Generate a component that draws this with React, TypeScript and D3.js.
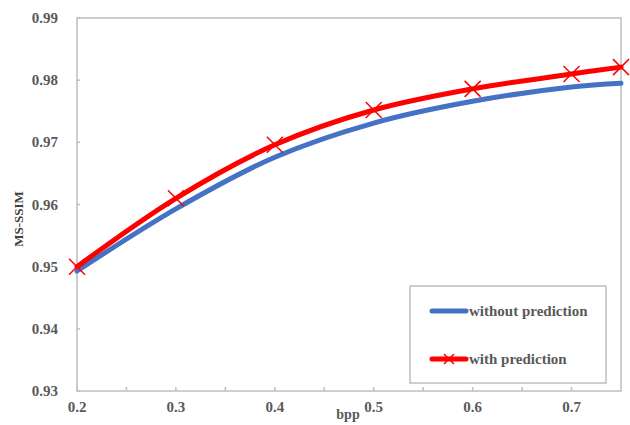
import { useEffect, useRef } from "react";
import * as d3 from "d3";

const bpp = [0.2, 0.3, 0.4, 0.5, 0.6, 0.7, 0.75];
const withoutPrediction = [0.9493, 0.9593, 0.9676, 0.9731, 0.9766, 0.9789, 0.9795];
const withPrediction = [0.95, 0.961, 0.9696, 0.9752, 0.9786, 0.981, 0.9821];
const yTicks = [0.93, 0.94, 0.95, 0.96, 0.97, 0.98, 0.99];
const xTicks = [0.2, 0.3, 0.4, 0.5, 0.6, 0.7];
const xMinorTicks = [0.25, 0.35, 0.45, 0.55, 0.65];
const seriesNames = ["without prediction", "with prediction"];

const App = () => {
  const svgRef = useRef<SVGSVGElement>(null);

  useEffect(() => {
    const svg = d3.select(svgRef.current);
    svg.selectAll("*").remove();

    const margin = { top: 18, right: 9, bottom: 34, left: 77 };
    const width = 630 - margin.left - margin.right;
    const height = 425 - margin.top - margin.bottom;
    const font = "'Liberation Serif', 'Times New Roman', serif";
    const textColor = "#595959";
    const axisColor = "#BFBFBF";

    const x = d3.scaleLinear().domain([0.2, 0.75]).range([0, width]);
    const y = d3.scaleLinear().domain([0.93, 0.99]).range([height, 0]);

    const g = svg
      .append("g")
      .attr("transform", "translate(" + margin.left + "," + margin.top + ")");

    // frame
    g.append("rect")
      .attr("x", 0)
      .attr("y", 0)
      .attr("width", width)
      .attr("height", height)
      .attr("fill", "none")
      .attr("stroke", axisColor)
      .attr("stroke-width", 1.5);

    // y ticks (inward) + labels
    g.selectAll(".ytick")
      .data(yTicks)
      .enter()
      .append("line")
      .attr("x1", 0)
      .attr("x2", 3)
      .attr("y1", (d) => y(d))
      .attr("y2", (d) => y(d))
      .attr("stroke", axisColor)
      .attr("stroke-width", 1.5);

    g.selectAll(".ylabel")
      .data(yTicks)
      .enter()
      .append("text")
      .attr("x", -19)
      .attr("y", (d) => y(d) + 5)
      .attr("text-anchor", "end")
      .attr("fill", textColor)
      .style("font", "bold 15px " + font)
      .text((d) => d3.format(".2f")(d));

    // x ticks (inward) + labels
    g.selectAll(".xtick")
      .data(xTicks.concat(xMinorTicks))
      .enter()
      .append("line")
      .attr("x1", (d) => x(d))
      .attr("x2", (d) => x(d))
      .attr("y1", height)
      .attr("y2", height - 4)
      .attr("stroke", axisColor)
      .attr("stroke-width", 1.5);

    g.selectAll(".xlabel")
      .data(xTicks)
      .enter()
      .append("text")
      .attr("x", (d) => x(d))
      .attr("y", height + 21)
      .attr("text-anchor", "middle")
      .attr("fill", textColor)
      .style("font", "bold 15px " + font)
      .text((d) => d3.format(".1f")(d));

    // axis titles
    g.append("text")
      .attr("x", 348 - margin.left)
      .attr("y", height + 28)
      .attr("text-anchor", "middle")
      .attr("fill", textColor)
      .style("font", "bold 14px " + font)
      .text("bpp");

    g.append("text")
      .attr("transform", "translate(-54," + (219 - margin.top) + ") rotate(-90)")
      .attr("text-anchor", "middle")
      .attr("fill", "#404040")
      .style("font", "bold 13px " + font)
      .text("MS-SSIM");

    const line = d3
      .line<number>()
      .x((d, i) => x(bpp[i]))
      .y((d) => y(d))
      .curve(d3.curveCatmullRom.alpha(0.5));

    g.append("path")
      .datum(withoutPrediction)
      .attr("d", line)
      .attr("fill", "none")
      .attr("stroke", "#4472C4")
      .attr("stroke-width", 5)
      .attr("stroke-linecap", "round");

    g.append("path")
      .datum(withPrediction)
      .attr("d", line)
      .attr("fill", "none")
      .attr("stroke", "#FF0000")
      .attr("stroke-width", 5)
      .attr("stroke-linecap", "round");

    const cross = (sel, cx, cy, s) => {
      sel
        .append("path")
        .attr(
          "d",
          `M${cx - s},${cy - s}L${cx + s},${cy + s}M${cx - s},${cy + s}L${cx + s},${cy - s}`
        )
        .attr("stroke", "#FF0000")
        .attr("stroke-width", 1.5)
        .attr("fill", "none");
    };

    withPrediction.forEach((d, i) => cross(g, x(bpp[i]), y(d), 8));

    // legend
    const legend = g
      .append("g")
      .attr("transform", "translate(" + (410 - margin.left) + "," + (286 - margin.top) + ")");
    legend
      .append("rect")
      .attr("width", 196)
      .attr("height", 97)
      .attr("fill", "white")
      .attr("stroke", axisColor)
      .attr("stroke-width", 1.5);

    const legendColors = ["#4472C4", "#FF0000"];
    seriesNames.forEach((name, i) => {
      const ly = 25 + i * 48;
      legend
        .append("line")
        .attr("x1", 22)
        .attr("x2", 56)
        .attr("y1", ly)
        .attr("y2", ly)
        .attr("stroke", legendColors[i])
        .attr("stroke-width", 5)
        .attr("stroke-linecap", "round");
      if (i === 1) cross(legend, 39, ly, 5);
      legend
        .append("text")
        .attr("x", 59)
        .attr("y", ly + 5)
        .attr("fill", textColor)
        .style("font", "bold 15px " + font)
        .text(name);
    });
  }, []);

  return (
    <svg
      ref={svgRef}
      width={630}
      height={425}
      style={{ position: "absolute", left: 0, top: 0, background: "white" }}
    />
  );
};

export default App;
